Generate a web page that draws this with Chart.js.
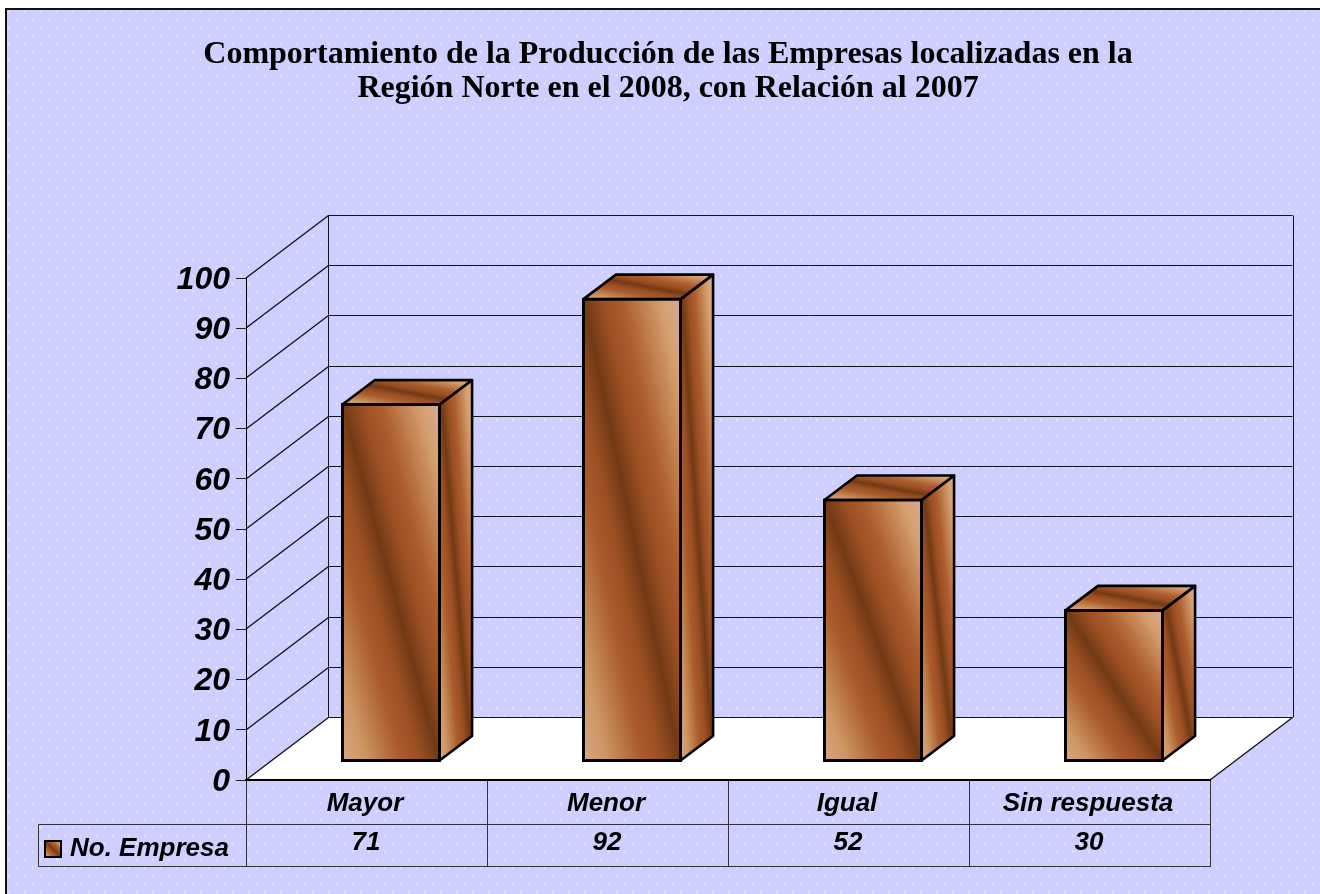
<!DOCTYPE html>
<html><head><meta charset="utf-8">
<style>html,body{margin:0;padding:0;background:#fff;overflow:hidden}canvas{display:block}</style>
<script src="https://cdn.jsdelivr.net/npm/chart.js@4"></script></head>
<body><div style="width:1320px;height:894px"><canvas id="c" width="1320" height="894"></canvas></div>
<script>
const titleLines = ['Comportamiento de la Producción de las Empresas localizadas en la','Región Norte en el 2008, con Relación al 2007'];
const categories = ['Mayor','Menor','Igual','Sin respuesta'];
const seriesLabel = 'No. Empresa';
const seriesValues = [71,92,52,30];

const DEPTH_X = 82.5, DEPTH_Y = 62.5;     // depth of the 3D box
const BAR_DX = 24.5, BAR_DY = 19;         // bars sit inside the floor
const SIDE_X = 32.5, SIDE_Y = 24.5;       // depth of a bar
const LABEL_FONT = 'italic bold 26px "Liberation Sans"';

function wood(ctx,x0,y0,x1,y1){
  const w=x1-x0,h=y1-y0,cx=(x0+x1)/2,cy=(y0+y1)/2,L=Math.hypot(w,h);
  const nx=h/L,ny=-w/L,d=w*h/L;
  const g=ctx.createLinearGradient(cx-nx*d,cy-ny*d,cx+nx*d,cy+ny*d);
  g.addColorStop(0,'#d8a684');g.addColorStop(.12,'#cd9664');g.addColorStop(.3,'#ab5c2c');
  g.addColorStop(.4,'#9c4f24');g.addColorStop(.5,'#713a14');g.addColorStop(.6,'#9c4f24');
  g.addColorStop(.7,'#ad5e2e');g.addColorStop(.9,'#d5a070');g.addColorStop(1,'#d6aa98');
  return g;
}
function poly(ctx,pts){ctx.beginPath();pts.forEach((p,i)=>i?ctx.lineTo(p[0],p[1]):ctx.moveTo(p[0],p[1]));ctx.closePath();}
function face(ctx,pts){
  const xs=pts.map(p=>p[0]),ys=pts.map(p=>p[1]);
  poly(ctx,pts);
  ctx.fillStyle=wood(ctx,Math.min(...xs),Math.min(...ys),Math.max(...xs),Math.max(...ys));
  ctx.fill();
  ctx.lineWidth=2.6;ctx.strokeStyle='#000';ctx.lineJoin='round';ctx.stroke();
}
function dots(){
  const t=document.createElement('canvas');t.width=t.height=16;
  const c=t.getContext('2d');c.fillStyle='#cfcfff';c.fillRect(0,0,16,16);
  [[8,11],[0,3]].forEach(p=>{
    c.fillStyle='rgba(255,255,255,.2)';c.fillRect(p[0]-1,p[1]-1,3,3);
    c.fillStyle='rgba(255,255,255,.5)';c.fillRect(p[0],p[1],1,1);
  });
  return t;
}
const scene = {
  id:'scene',
  beforeDraw(chart){
    const ctx=chart.ctx,{left,right,top,bottom}=chart.chartArea,y=chart.scales.y;
    ctx.save();
    ctx.fillStyle='#fff';ctx.fillRect(0,0,1320,894);
    ctx.fillStyle=ctx.createPattern(dots(),'repeat');ctx.fillRect(7,10,1313,884);
    ctx.strokeStyle='#111';ctx.lineWidth=2;
    ctx.beginPath();ctx.moveTo(6,894);ctx.lineTo(6,9);ctx.lineTo(1320,9);ctx.stroke();
    // floor
    poly(ctx,[[left,bottom],[left+DEPTH_X,bottom-DEPTH_Y],[right+DEPTH_X,bottom-DEPTH_Y],[right,bottom]]);
    ctx.fillStyle='#fff';ctx.fill();
    // wall grid
    ctx.strokeStyle='#14141c';ctx.lineWidth=1;
    ctx.beginPath();
    y.ticks.forEach(t=>{
      const py=Math.round(y.getPixelForValue(t.value));
      ctx.moveTo(left+DEPTH_X,py-DEPTH_Y);ctx.lineTo(right+DEPTH_X,py-DEPTH_Y);
    });
    const bx=Math.round(left+DEPTH_X)-.5,rx=Math.round(right+DEPTH_X)+.5;
    ctx.moveTo(bx,top-DEPTH_Y);ctx.lineTo(bx,bottom-DEPTH_Y);
    ctx.moveTo(rx,top-DEPTH_Y);ctx.lineTo(rx,bottom-DEPTH_Y);
    ctx.stroke();
    ctx.lineWidth=1.4;
    ctx.beginPath();
    y.ticks.forEach(t=>{
      const py=Math.round(y.getPixelForValue(t.value));
      ctx.moveTo(left,py);ctx.lineTo(left+DEPTH_X,py-DEPTH_Y);
    });
    ctx.moveTo(right,bottom);ctx.lineTo(right+DEPTH_X,bottom-DEPTH_Y);
    ctx.stroke();
    ctx.restore();
  },
  beforeDatasetsDraw(chart){
    const ctx=chart.ctx,meta=chart.getDatasetMeta(0);
    ctx.save();ctx.translate(BAR_DX,-BAR_DY);
    meta.data.forEach(bar=>{
      const p=bar.getProps(['x','y','base','width'],true);
      const l=p.x-p.width/2,r=p.x+p.width/2,t=p.y,b=p.base;
      face(ctx,[[r,t],[r+SIDE_X,t-SIDE_Y],[r+SIDE_X,b-SIDE_Y],[r,b]]);
      face(ctx,[[l,t],[l+SIDE_X,t-SIDE_Y],[r+SIDE_X,t-SIDE_Y],[r,t]]);
      bar.options=Object.assign({},bar.options,{backgroundColor:wood(ctx,l,t,r,b)});
    });
  },
  afterDatasetsDraw(chart){chart.ctx.restore();},
  afterDraw(chart){
    const ctx=chart.ctx,{left,right}=chart.chartArea,x=chart.scales.x;
    ctx.save();
    ctx.strokeStyle='#333';ctx.lineWidth=1;
    ctx.beginPath();
    ctx.moveTo(38.5,824.5);ctx.lineTo(right,824.5);
    ctx.moveTo(38.5,866.5);ctx.lineTo(right,866.5);
    ctx.moveTo(38.5,824.5);ctx.lineTo(38.5,866.5);
    ctx.stroke();
    ctx.font=LABEL_FONT;ctx.fillStyle='#000';ctx.textBaseline='middle';ctx.textAlign='center';
    seriesValues.forEach((v,i)=>ctx.fillText(String(v),x.getPixelForValue(i)-.5,843));
    ctx.textAlign='left';ctx.fillText(seriesLabel,70,849);
    ctx.fillStyle=wood(ctx,45,841,61,857);ctx.fillRect(45,841,16,16);
    ctx.strokeStyle='#000';ctx.lineWidth=2;ctx.strokeRect(45,841,16,16);
    ctx.restore();
  }
};
new Chart(document.getElementById('c'),{
  type:'bar',
  data:{labels:categories,datasets:[{label:seriesLabel,data:seriesValues,backgroundColor:'#a9582a',borderColor:'#000',borderWidth:3,borderSkipped:false,inflateAmount:1.5,barPercentage:.403,categoryPercentage:1,clip:false}]},
  plugins:[scene],
  options:{
    responsive:false,animation:false,
    layout:{padding:{left:126,right:110,top:38,bottom:0}},
    plugins:{
      legend:{display:false},tooltip:{enabled:false},
      title:{display:true,text:titleLines,color:'#000',font:{family:'"Liberation Serif"',size:32,weight:'bold',lineHeight:1.0625},padding:{top:0,bottom:172}}
    },
    scales:{
      x:{afterFit(s){s.height=114;},
        border:{display:true,color:'#000',width:2},
        grid:{drawOnChartArea:false,drawTicks:true,tickLength:87,color:'#333',offset:true},
        ticks:{color:'#000',font:{family:'"Liberation Sans"',size:26,style:'italic',weight:'bold'},padding:-79,labelOffset:-1.5,autoSkip:false,maxRotation:0}},
      y:{min:0,max:100,afterFit(s){s.width=120;},
        border:{display:true,color:'#000',width:1},
        grid:{drawOnChartArea:false,drawTicks:true,tickLength:10,color:'#222'},
        ticks:{stepSize:10,color:'#000',font:{family:'"Liberation Sans"',size:32,style:'italic',weight:'bold'},padding:6,labelOffset:2}}
    }
  }
});
</script></body></html>
